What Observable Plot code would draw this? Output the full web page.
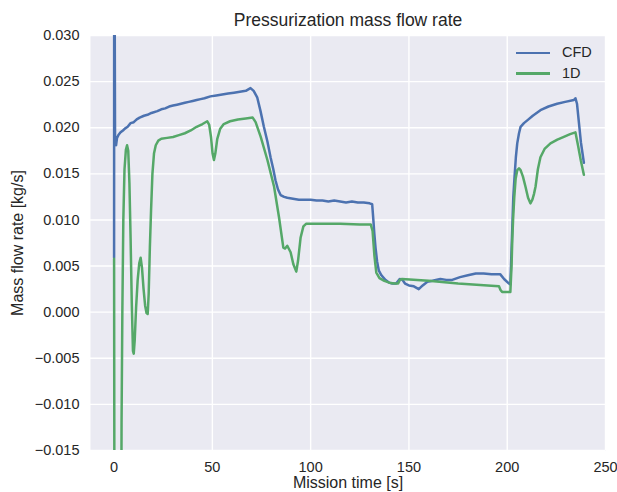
<!DOCTYPE html>
<html>
<head>
<meta charset="utf-8">
<script src="https://cdn.jsdelivr.net/npm/d3@7"></script>
<script src="https://cdn.jsdelivr.net/npm/@observablehq/plot@0.6"></script>
<style>
  html, body { margin: 0; padding: 0; background: white; }
  #wrap { position: relative; width: 617px; height: 492px; font-family: "Liberation Sans", Arial, sans-serif; }
  #legend { position: absolute; left: 516px; top: 42px; font-size: 14.5px; color: #262626; }
  .lg { position: relative; height: 20.6px; width: 90px; }
  .lg span.sw { position: absolute; left: 0; top: 9.5px; width: 34px; height: 2.5px; }
  .lg span.tx { position: absolute; left: 46px; top: 2px; line-height: 17px; }
</style>
</head>
<body>
<div id="wrap"></div>
<script>
// ---- data ----
const seriesNames = ["CFD", "1D"];
const seriesColors = ["#4C72B0", "#55A868"];

const cfdTime = [0, 0.05, 0.15, 0.5, 1.0, 1.5, 2.2, 3.3, 4.5, 5.5, 6.9, 8.4, 10, 11.5, 13, 15.2, 17, 19, 22, 24, 26, 28, 30, 32, 34, 36, 38, 40, 42, 44, 46, 49, 52, 55, 58, 61, 64, 67, 69.4, 71, 72.8, 74.5, 76.2, 78, 79.6, 81, 82.1, 83.4, 84.7, 86.5, 88.1, 91, 94, 97, 100, 103, 106, 109, 112, 115, 118, 121, 124, 127, 130, 131.3, 131.8, 132.4, 133, 133.8, 134.7, 136, 138, 140, 141.5, 143.5, 145.3, 146.7, 148, 150, 152.5, 155, 157, 159.4, 162, 166, 169, 172, 176, 180, 184, 188, 192, 196.5, 198.4, 200.9, 201.6, 202.4, 203.1, 203.7, 204.4, 205.1, 206, 206.8, 208.5, 210.2, 213, 216.9, 221, 225.4, 229.5, 233.9, 234.7, 235.5, 236.5, 237.5, 239];
const cfdFlow = [0.0059, 0.045, 0.045, 0.0183, 0.0181, 0.0189, 0.0192, 0.0195, 0.0197, 0.0199, 0.0201, 0.0205, 0.0206, 0.0209, 0.0211, 0.0213, 0.0214, 0.0216, 0.0218, 0.0220, 0.0221, 0.0223, 0.0224, 0.0225, 0.0226, 0.0227, 0.0228, 0.0229, 0.0230, 0.0231, 0.0232, 0.0234, 0.0235, 0.0236, 0.0237, 0.0238, 0.0239, 0.0240, 0.0243, 0.0240, 0.0233, 0.0218, 0.0201, 0.0185, 0.0168, 0.0155, 0.0143, 0.0133, 0.0127, 0.0125, 0.0124, 0.0123, 0.0122, 0.0122, 0.0122, 0.0121, 0.0121, 0.0120, 0.0121, 0.0120, 0.0119, 0.0120, 0.0119, 0.0119, 0.0118, 0.0117, 0.0103, 0.0085, 0.0070, 0.0055, 0.0045, 0.0040, 0.0035, 0.0032, 0.0031, 0.0031, 0.0036, 0.0035, 0.0031, 0.0029, 0.0028, 0.0025, 0.0029, 0.0033, 0.0034, 0.0036, 0.0035, 0.0035, 0.0038, 0.0040, 0.0042, 0.0042, 0.0041, 0.0041, 0.0036, 0.0031, 0.0030, 0.0080, 0.0125, 0.0146, 0.0168, 0.0183, 0.0194, 0.0201, 0.0205, 0.0208, 0.0213, 0.0219, 0.0223, 0.0226, 0.0228, 0.0230, 0.0232, 0.0226, 0.0205, 0.0184, 0.0162];

const oneDTime = [0, 0.3, 3.4, 3.8, 4.2, 4.7, 5.3, 6.0, 6.6, 7.2, 7.8, 8.4, 9.0, 9.6, 10.0, 10.5, 11.2, 12.0, 12.8, 13.5, 14.2, 15.0, 15.8, 16.5, 17.1, 17.6, 18.2, 18.8, 19.5, 20.3, 21.2, 22.5, 24, 27, 30, 33, 36, 39, 42, 45, 47.4, 48.4, 49.3, 50.1, 50.8, 51.5, 52.5, 54, 55.8, 59, 63, 67, 70.5, 72, 74.6, 78, 81.4, 83.9, 86.1, 87, 88.1, 89.8, 91.2, 92.7, 93.6, 94.9, 96.3, 97.8, 105, 115, 125, 130.6, 131.5, 132.4, 133.4, 135, 137.5, 140, 142.5, 144.5, 145.4, 146.5, 160, 175, 190, 195.8, 196.6, 197.4, 201.6, 202.2, 202.6, 203, 203.6, 204.3, 205.1, 206, 206.8, 208, 209.3, 210.6, 211.8, 212.8, 213.6, 214.4, 215.6, 216.9, 219, 222, 225.5, 228.8, 232, 234.7, 236, 237.5, 239];
const oneDFlow = [0.0058, -0.045, -0.045, -0.012, 0.0, 0.0100, 0.0155, 0.0176, 0.0181, 0.0175, 0.0140, 0.0080, 0.0010, -0.0042, -0.0045, -0.0030, 0.0005, 0.0035, 0.0053, 0.0059, 0.0048, 0.0025, 0.0007, -0.0001, -0.0002, 0.0020, 0.0070, 0.0110, 0.0150, 0.0172, 0.0181, 0.0186, 0.0188, 0.0189, 0.0190, 0.0192, 0.0194, 0.0197, 0.0201, 0.0204, 0.0207, 0.0203, 0.0190, 0.0172, 0.0165, 0.0172, 0.0188, 0.0199, 0.0204, 0.0207, 0.0209, 0.0210, 0.0211, 0.0206, 0.0190, 0.0165, 0.0136, 0.0103, 0.0070, 0.0069, 0.0072, 0.0065, 0.0052, 0.0044, 0.0056, 0.0081, 0.0093, 0.0096, 0.0096, 0.0096, 0.0095, 0.0095, 0.0088, 0.0062, 0.0043, 0.0037, 0.0034, 0.0032, 0.0031, 0.0031, 0.0035, 0.0036, 0.0034, 0.0031, 0.0029, 0.0028, 0.0024, 0.0022, 0.0022, 0.0050, 0.0080, 0.0101, 0.0125, 0.0145, 0.0154, 0.0156, 0.0154, 0.0147, 0.0136, 0.0124, 0.0118, 0.0122, 0.0128, 0.0136, 0.0155, 0.0168, 0.0177, 0.0183, 0.0187, 0.0190, 0.0193, 0.0195, 0.0181, 0.0164, 0.0149];

const xTicks = [0, 50, 100, 150, 200, 250];
const yTicks = [-0.015, -0.010, -0.005, 0.000, 0.005, 0.010, 0.015, 0.020, 0.025, 0.030];
const titleText = "Pressurization mass flow rate";
const xLabel = "Mission time [s]";
const yLabel = "Mass flow rate [kg/s]";

// ---- build ----
const cfd = cfdTime.map((t, i) => ({t, v: cfdFlow[i]}));
const oneD = oneDTime.map((t, i) => ({t, v: oneDFlow[i]}));
const fmt = d3.format(".3f");
const textColor = "#262626";

const chart = Plot.plot({
  width: 617,
  height: 492,
  marginTop: 35,
  marginBottom: 42,
  marginLeft: 90,
  marginRight: 12,
  style: {fontFamily: '"Liberation Sans", Arial, sans-serif', fontSize: "14.5px", color: textColor, background: "white"},
  x: {domain: [-12, 250], label: null},
  y: {domain: [-0.015, 0.030], label: null},
  marks: [
    Plot.frame({fill: "#EAEAF2", stroke: null}),
    Plot.gridX(xTicks, {stroke: "white", strokeOpacity: 1, strokeWidth: 1.4}),
    Plot.gridY(yTicks, {stroke: "white", strokeOpacity: 1, strokeWidth: 1.4}),
    Plot.axisX(xTicks, {tickSize: 0, tickPadding: 11, fontSize: 14.5, fill: textColor, label: null}),
    Plot.axisY(yTicks, {tickSize: 0, tickPadding: 11, fontSize: 14.5, fill: textColor, tickFormat: fmt, label: null}),
    Plot.line(cfd, {x: "t", y: "v", stroke: seriesColors[0], strokeWidth: 2.5, strokeLinejoin: "round", clip: true}),
    Plot.line(oneD, {x: "t", y: "v", stroke: seriesColors[1], strokeWidth: 2.5, strokeLinejoin: "round", clip: true}),
    Plot.text([titleText], {frameAnchor: "top", dy: -9.5, lineAnchor: "bottom", textAnchor: "middle", fontSize: 17.5, fill: textColor}),
    Plot.text([xLabel], {frameAnchor: "bottom", dy: 37, lineAnchor: "bottom", textAnchor: "middle", fontSize: 16, fill: textColor}),
    Plot.text([yLabel], {frameAnchor: "left", dx: -68, rotate: -90, lineAnchor: "bottom", textAnchor: "middle", fontSize: 16, fill: textColor})
  ]
});

const wrap = document.getElementById("wrap");
wrap.appendChild(chart);

const legend = document.createElement("div");
legend.id = "legend";
seriesNames.forEach((name, i) => {
  const row = document.createElement("div");
  row.className = "lg";
  const sw = document.createElement("span");
  sw.className = "sw";
  sw.style.background = seriesColors[i];
  const tx = document.createElement("span");
  tx.className = "tx";
  tx.textContent = name;
  row.appendChild(sw);
  row.appendChild(tx);
  legend.appendChild(row);
});
wrap.appendChild(legend);
</script>
</body>
</html>
